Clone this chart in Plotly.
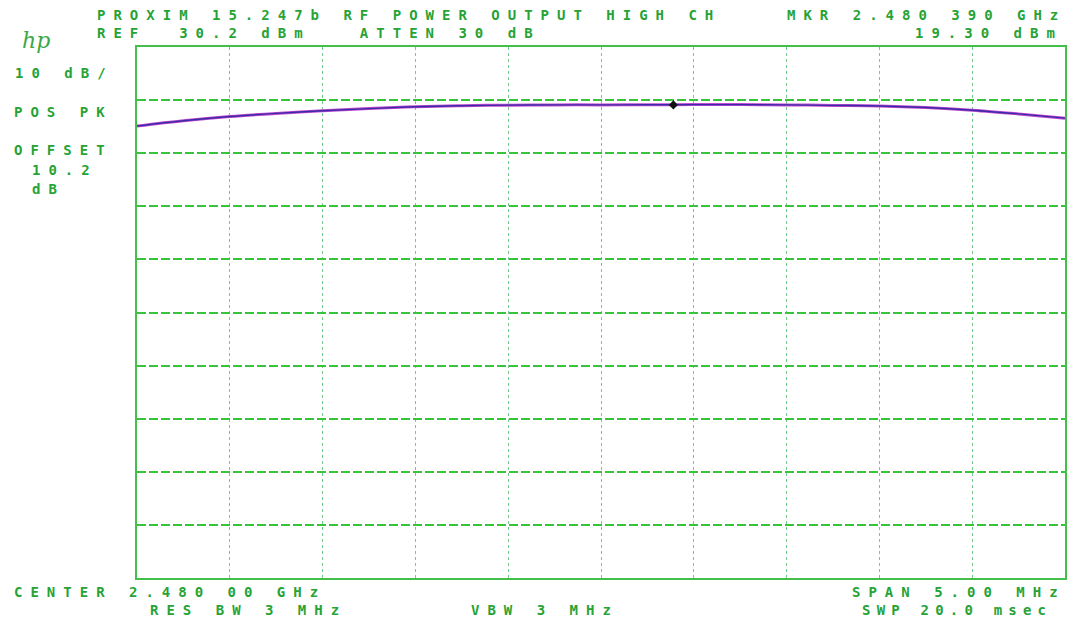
import plotly.graph_objects as go

# ---- data ----
freq_mhz = [2477.5, 2477.75, 2478.0, 2478.25, 2478.5, 2478.75, 2479.0, 2479.25,
            2479.5, 2479.75, 2480.0, 2480.25, 2480.5, 2480.75, 2481.0, 2481.25,
            2481.5, 2481.75, 2482.0, 2482.25, 2482.5]
power_dbm = [15.3, 16.3, 17.1, 17.7, 18.2, 18.6, 18.95, 19.15,
             19.25, 19.3, 19.3, 19.32, 19.35, 19.35, 19.3, 19.2,
             19.1, 18.8, 18.3, 17.6, 16.8]
marker_freq = [2480.39]
marker_dbm = [19.30]

ref_level = 30.2
db_per_div = 10
n_ydiv = 10
center_mhz = 2480.0
span_mhz = 5.0

# ---- layout constants ----
W, H = 1078, 624
L, R, T, B = 137, 1067, 47, 578
TXT = "#27a335"
GRID_H = "#38c43a"
GRID_V = "#74c890"
FONT = "DejaVu Sans Mono"


def px(x):
    return (x - L) / (R - L)


def py(y):
    return (B - y) / (B - T)


fig = go.Figure()
fig.add_trace(go.Scatter(x=freq_mhz, y=power_dbm, mode="lines",
                         line=dict(color="#c24ad0", width=3, shape="spline"),
                         hoverinfo="skip", showlegend=False))
fig.add_trace(go.Scatter(x=freq_mhz, y=power_dbm, mode="lines",
                         line=dict(color="#3b2aa8", width=1.4, shape="spline"),
                         hoverinfo="skip", showlegend=False))
fig.add_trace(go.Scatter(x=marker_freq, y=marker_dbm, mode="markers",
                         marker=dict(symbol="diamond", size=7, color="#111"),
                         hoverinfo="skip", showlegend=False))

fig.update_xaxes(range=[center_mhz - span_mhz / 2, center_mhz + span_mhz / 2],
                 tick0=center_mhz, dtick=span_mhz / 10, showticklabels=False,
                 ticks="", showgrid=True, gridcolor=GRID_V, gridwidth=1.3,
                 griddash="3px,3px", zeroline=False, showline=True, mirror=True,
                 linecolor="#44c04a", linewidth=2)
fig.update_yaxes(range=[ref_level - n_ydiv * db_per_div, ref_level],
                 tick0=ref_level, dtick=db_per_div, showticklabels=False,
                 ticks="", showgrid=True, gridcolor=GRID_H, gridwidth=1.5,
                 griddash="9px,3px", zeroline=False, showline=True, mirror=True,
                 linecolor="#44c04a", linewidth=2)

anns = []


def txt(s, x, y, anchor="left", size=14, color=TXT, family=FONT, italic=False,
        weight="bold"):
    anns.append(dict(text=s, xref="paper", yref="paper", x=px(x), y=py(y),
                     xanchor=anchor, yanchor="middle", align=anchor,
                     showarrow=False,
                     font=dict(family=family, size=size, color=color,
                               weight=weight,
                               style="italic" if italic else "normal")))


NB = "\u00a0"
txt("PROXIM 15.247b RF POWER OUTPUT HIGH CH", 95, 15)
txt("MKR 2.480 390 GHz", 1070, 15, "right")
txt("REF" + NB * 2 + "30.2 dBm" + NB * 3 + "ATTEN 30 dB", 95, 33)
txt("19.30 dBm", 1067, 33, "right")
txt("10 dB/", 13, 73)
txt("POS PK", 12, 112)
txt("OFFSET", 12, 150)
txt("10.2", 30, 170)
txt("dB", 30, 189)
txt("CENTER 2.480 00 GHz", 12, 592)
txt("SPAN 5.00 MHz", 1070, 592, "right")
txt("RES BW 3 MHz", 148, 610)
txt("VBW 3 MHz", 470, 610)
txt("SWP 20.0 msec", 862, 610)
txt("hp", 20, 40, size=22, family="DejaVu Serif", italic=True, color="#3aa848",
    weight="normal")

fig.update_layout(width=W, height=H, autosize=False,
                  margin=dict(l=L, r=W - R, t=T, b=H - B, pad=0),
                  paper_bgcolor="white", plot_bgcolor="white",
                  annotations=anns, showlegend=False)

post = """
document.querySelectorAll('.annotation-text').forEach(function(t){
  var s = t.textContent;
  if (s === 'hp') { return; }
  var ls = '8px';
  if (s.indexOf('SWP') === 0) { ls = '6.2px'; }
  t.setAttribute('letter-spacing', ls);
});
"""
fig.write_html("out.html", post_script=post, config={"displayModeBar": False})
